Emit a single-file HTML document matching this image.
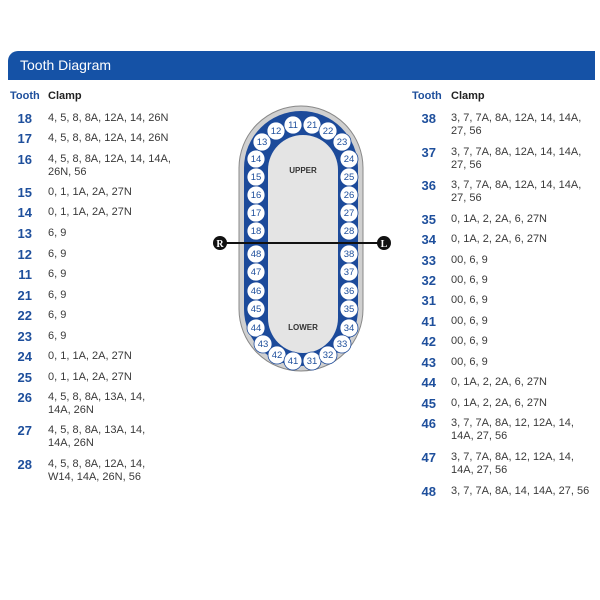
<!DOCTYPE html>
<html><head><style>
body{margin:0;width:600px;height:600px;background:#fff;position:relative;font-family:"Liberation Sans",sans-serif;overflow:hidden}
.hdr{position:absolute;left:8px;top:51px;width:587px;height:29px;background:#1552a6;border-top-left-radius:10px;color:#fff;font-size:14px;line-height:29px;padding-left:12px;box-sizing:border-box}
.t{position:absolute;color:#1e4f9c;font-weight:bold;font-size:13px;text-align:right;width:24px}
.c{position:absolute;color:#3a3a3a;font-size:11px;line-height:13px;width:150px}
.h{position:absolute;font-size:11px;font-weight:bold;color:#222}
</style></head><body>
<div class="hdr">Tooth Diagram</div>
<div class="h" style="left:10px;top:90px;color:#1e4f9c">Tooth</div>
<div class="h" style="left:48px;top:90px">Clamp</div>
<div class="h" style="left:412px;top:90px;color:#1e4f9c">Tooth</div>
<div class="h" style="left:451px;top:90px">Clamp</div>

<div class="t" style="left:8px;top:111px">18</div><div class="c" style="left:48px;top:112px">4, 5, 8, 8A, 12A, 14, 26N</div>
<div class="t" style="left:8px;top:131px">17</div><div class="c" style="left:48px;top:132px">4, 5, 8, 8A, 12A, 14, 26N</div>
<div class="t" style="left:8px;top:152px">16</div><div class="c" style="left:48px;top:153px">4, 5, 8, 8A, 12A, 14, 14A,<br>26N, 56</div>
<div class="t" style="left:8px;top:185px">15</div><div class="c" style="left:48px;top:186px">0, 1, 1A, 2A, 27N</div>
<div class="t" style="left:8px;top:205px">14</div><div class="c" style="left:48px;top:206px">0, 1, 1A, 2A, 27N</div>
<div class="t" style="left:8px;top:226px">13</div><div class="c" style="left:48px;top:227px">6, 9</div>
<div class="t" style="left:8px;top:247px">12</div><div class="c" style="left:48px;top:248px">6, 9</div>
<div class="t" style="left:8px;top:267px">11</div><div class="c" style="left:48px;top:268px">6, 9</div>
<div class="t" style="left:8px;top:288px">21</div><div class="c" style="left:48px;top:289px">6, 9</div>
<div class="t" style="left:8px;top:308px">22</div><div class="c" style="left:48px;top:309px">6, 9</div>
<div class="t" style="left:8px;top:329px">23</div><div class="c" style="left:48px;top:330px">6, 9</div>
<div class="t" style="left:8px;top:349px">24</div><div class="c" style="left:48px;top:350px">0, 1, 1A, 2A, 27N</div>
<div class="t" style="left:8px;top:370px">25</div><div class="c" style="left:48px;top:371px">0, 1, 1A, 2A, 27N</div>
<div class="t" style="left:8px;top:390px">26</div><div class="c" style="left:48px;top:391px">4, 5, 8, 8A, 13A, 14,<br>14A, 26N</div>
<div class="t" style="left:8px;top:423px">27</div><div class="c" style="left:48px;top:424px">4, 5, 8, 8A, 13A, 14,<br>14A, 26N</div>
<div class="t" style="left:8px;top:457px">28</div><div class="c" style="left:48px;top:458px">4, 5, 8, 8A, 12A, 14,<br>W14, 14A, 26N, 56</div>

<div class="t" style="left:412px;top:111px">38</div><div class="c" style="left:451px;top:112px">3, 7, 7A, 8A, 12A, 14, 14A,<br>27, 56</div>
<div class="t" style="left:412px;top:145px">37</div><div class="c" style="left:451px;top:146px">3, 7, 7A, 8A, 12A, 14, 14A,<br>27, 56</div>
<div class="t" style="left:412px;top:178px">36</div><div class="c" style="left:451px;top:179px">3, 7, 7A, 8A, 12A, 14, 14A,<br>27, 56</div>
<div class="t" style="left:412px;top:212px">35</div><div class="c" style="left:451px;top:213px">0, 1A, 2, 2A, 6, 27N</div>
<div class="t" style="left:412px;top:232px">34</div><div class="c" style="left:451px;top:233px">0, 1A, 2, 2A, 6, 27N</div>
<div class="t" style="left:412px;top:253px">33</div><div class="c" style="left:451px;top:254px">00, 6, 9</div>
<div class="t" style="left:412px;top:273px">32</div><div class="c" style="left:451px;top:274px">00, 6, 9</div>
<div class="t" style="left:412px;top:293px">31</div><div class="c" style="left:451px;top:294px">00, 6, 9</div>
<div class="t" style="left:412px;top:314px">41</div><div class="c" style="left:451px;top:315px">00, 6, 9</div>
<div class="t" style="left:412px;top:334px">42</div><div class="c" style="left:451px;top:335px">00, 6, 9</div>
<div class="t" style="left:412px;top:355px">43</div><div class="c" style="left:451px;top:356px">00, 6, 9</div>
<div class="t" style="left:412px;top:375px">44</div><div class="c" style="left:451px;top:376px">0, 1A, 2, 2A, 6, 27N</div>
<div class="t" style="left:412px;top:396px">45</div><div class="c" style="left:451px;top:397px">0, 1A, 2, 2A, 6, 27N</div>
<div class="t" style="left:412px;top:416px">46</div><div class="c" style="left:451px;top:417px">3, 7, 7A, 8A, 12, 12A, 14,<br>14A, 27, 56</div>
<div class="t" style="left:412px;top:450px">47</div><div class="c" style="left:451px;top:451px">3, 7, 7A, 8A, 12, 12A, 14,<br>14A, 27, 56</div>
<div class="t" style="left:412px;top:484px">48</div><div class="c" style="left:451px;top:485px">3, 7, 7A, 8A, 14, 14A, 27, 56</div>

<svg style="position:absolute;left:0;top:0" width="600" height="600" font-family="Liberation Sans, sans-serif">
<rect x="239" y="106" width="124" height="265" rx="62" fill="#d0d0d0" stroke="#888" stroke-width="1"/>
<rect x="244" y="111" width="114" height="255" rx="57" fill="#1c4a9a"/>
<rect x="268" y="135" width="70" height="218" rx="35" fill="#e4e4e4"/>
<text x="303" y="173" font-size="8" font-weight="bold" text-anchor="middle" fill="#333">UPPER</text>
<text x="303" y="330" font-size="8" font-weight="bold" text-anchor="middle" fill="#333">LOWER</text>
<g fill="#fff" stroke="#1c4a9a" stroke-width="0.8">
<circle cx="256" cy="159" r="9"/><circle cx="256" cy="177" r="9"/><circle cx="256" cy="195" r="9"/><circle cx="256" cy="213" r="9"/><circle cx="256" cy="231" r="9"/>
<circle cx="256" cy="254" r="9"/><circle cx="256" cy="272" r="9"/><circle cx="256" cy="291" r="9"/><circle cx="256" cy="309" r="9"/><circle cx="256" cy="328" r="9"/>
<circle cx="349" cy="159" r="9"/><circle cx="349" cy="177" r="9"/><circle cx="349" cy="195" r="9"/><circle cx="349" cy="213" r="9"/><circle cx="349" cy="231" r="9"/>
<circle cx="349" cy="254" r="9"/><circle cx="349" cy="272" r="9"/><circle cx="349" cy="291" r="9"/><circle cx="349" cy="309" r="9"/><circle cx="349" cy="328" r="9"/>
<circle cx="262" cy="142" r="9"/><circle cx="276" cy="131" r="9"/><circle cx="293" cy="125" r="9"/><circle cx="312" cy="125" r="9"/><circle cx="328" cy="131" r="9"/><circle cx="342" cy="142" r="9"/>
<circle cx="263" cy="344" r="9"/><circle cx="277" cy="355" r="9"/><circle cx="293" cy="361" r="9"/><circle cx="312" cy="361" r="9"/><circle cx="328" cy="355" r="9"/><circle cx="342" cy="344" r="9"/>
</g>
<g fill="#1e4f9c" font-size="9.5" text-anchor="middle">
<text x="256" y="162">14</text><text x="256" y="180">15</text><text x="256" y="198">16</text><text x="256" y="216">17</text><text x="256" y="234">18</text>
<text x="256" y="257">48</text><text x="256" y="275">47</text><text x="256" y="294">46</text><text x="256" y="312">45</text><text x="256" y="331">44</text>
<text x="349" y="162">24</text><text x="349" y="180">25</text><text x="349" y="198">26</text><text x="349" y="216">27</text><text x="349" y="234">28</text>
<text x="349" y="257">38</text><text x="349" y="275">37</text><text x="349" y="294">36</text><text x="349" y="312">35</text><text x="349" y="331">34</text>
<text x="262" y="145">13</text><text x="276" y="134">12</text><text x="293" y="128">11</text><text x="312" y="128">21</text><text x="328" y="134">22</text><text x="342" y="145">23</text>
<text x="263" y="347">43</text><text x="277" y="358">42</text><text x="293" y="364">41</text><text x="312" y="364">31</text><text x="328" y="358">32</text><text x="342" y="347">33</text>
</g>
<line x1="220" y1="243" x2="384" y2="243" stroke="#111" stroke-width="2"/>
<circle cx="220" cy="243" r="7" fill="#111"/><circle cx="384" cy="243" r="7" fill="#111"/>
<text x="220" y="247" font-size="10" font-weight="bold" fill="#fff" text-anchor="middle" font-family="Liberation Serif, serif">R</text>
<text x="384" y="247" font-size="10" font-weight="bold" fill="#fff" text-anchor="middle" font-family="Liberation Serif, serif">L</text>
</svg>
</body></html>
